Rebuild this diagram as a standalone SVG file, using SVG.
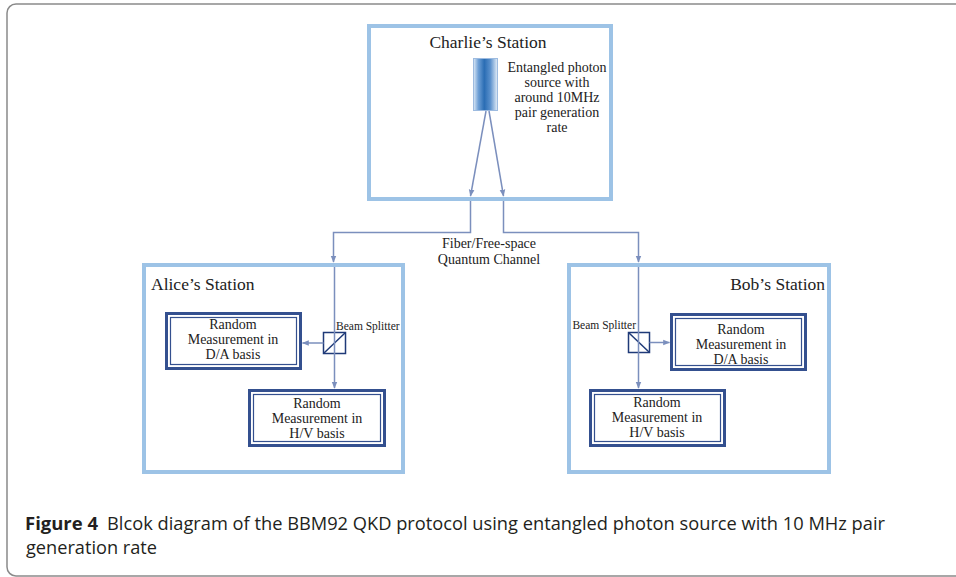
<svg xmlns="http://www.w3.org/2000/svg" width="956" height="577" viewBox="0 0 956 577">
<defs>
<linearGradient id="src" x1="0" y1="0" x2="1" y2="0">
<stop offset="0" stop-color="#dce9f6"/>
<stop offset="0.2" stop-color="#6fa0d6"/>
<stop offset="0.45" stop-color="#2a6db4"/>
<stop offset="0.7" stop-color="#5a90cc"/>
<stop offset="1" stop-color="#e4eef8"/>
</linearGradient>
<marker id="ar" viewBox="0 0 10 10" refX="9" refY="5" markerWidth="7" markerHeight="7" markerUnits="userSpaceOnUse" orient="auto">
<path d="M0,1 L10,5 L0,9 Z" fill="#7b8fbd"/>
</marker>
<style>
.frame{fill:none;stroke:#8a8a8a;stroke-width:1.5}
.station{fill:#fff;stroke:#9dc3e6;stroke-width:4}
.title{font-family:"Liberation Serif","DejaVu Serif",serif;font-size:17.5px;fill:#222}
.lbl{font-family:"Liberation Serif","DejaVu Serif",serif;font-size:14px;fill:#222;text-anchor:middle}
.small{font-family:"Liberation Serif","DejaVu Serif",serif;font-size:11.5px;fill:#222}
.box-o{fill:#fff;stroke:#34508f;stroke-width:3}
.box-i{fill:none;stroke:#34508f;stroke-width:1.2}
.line{fill:none;stroke:#7b8fbd;stroke-width:1.5}
.bs{fill:none;stroke:#1f3a78;stroke-width:1.5}
.cap{font-family:"Open Sans","Liberation Sans",sans-serif;font-size:18px;fill:#231f20}
</style>
</defs>
<rect class="frame" x="7" y="4" width="960" height="572" rx="9"/>

<g id="charlie">
<rect class="station" x="369" y="26" width="242" height="173"/>
<text class="title" x="488" y="48" text-anchor="middle">Charlie’s Station</text>
<rect x="473.5" y="58.5" width="24" height="52" fill="url(#src)" stroke="#9dbbe0" stroke-width="1"/>
<text class="lbl" x="557" y="72">Entangled photon</text>
<text class="lbl" x="557" y="87">source with</text>
<text class="lbl" x="557" y="102">around 10MHz</text>
<text class="lbl" x="557" y="117">pair generation</text>
<text class="lbl" x="557" y="132">rate</text>
</g>

<g id="alice">
<rect class="station" x="144" y="265" width="259" height="207"/>
<text class="title" x="151" y="290">Alice’s Station</text>
</g>
<g id="alice-da">
<rect class="box-o" x="166.5" y="313.5" width="134" height="55"/>
<rect class="box-i" x="170.5" y="317.5" width="126" height="47"/>
<text class="lbl" x="233" y="329">Random</text>
<text class="lbl" x="233" y="344">Measurement in</text>
<text class="lbl" x="233" y="359">D/A basis</text>
</g>
<g id="alice-hv">
<rect class="box-o" x="249.5" y="390.5" width="135" height="55"/>
<rect class="box-i" x="253.5" y="394.5" width="127" height="47"/>
<text class="lbl" x="317" y="408">Random</text>
<text class="lbl" x="317" y="423">Measurement in</text>
<text class="lbl" x="317" y="438">H/V basis</text>
</g>
<g id="alice-bs">
<rect class="bs" x="323.5" y="332.5" width="22" height="21"/>
<line class="bs" x1="323.5" y1="353.5" x2="345.5" y2="332.5"/>
<text class="small" x="336" y="330">Beam Splitter</text>
</g>

<g id="bob">
<rect class="station" x="569" y="265" width="260" height="207"/>
<text class="title" x="825" y="290" text-anchor="end">Bob’s Station</text>
</g>
<g id="bob-da">
<rect class="box-o" x="671.5" y="314.5" width="134" height="55"/>
<rect class="box-i" x="675.5" y="318.5" width="126" height="47"/>
<text class="lbl" x="741" y="334">Random</text>
<text class="lbl" x="741" y="349">Measurement in</text>
<text class="lbl" x="741" y="364">D/A basis</text>
</g>
<g id="bob-hv">
<rect class="box-o" x="590.5" y="390.5" width="134" height="55"/>
<rect class="box-i" x="594.5" y="394.5" width="126" height="47"/>
<text class="lbl" x="657" y="407">Random</text>
<text class="lbl" x="657" y="422">Measurement in</text>
<text class="lbl" x="657" y="437">H/V basis</text>
</g>
<g id="bob-bs">
<rect class="bs" x="628.5" y="332.5" width="21" height="20"/>
<line class="bs" x1="628.5" y1="332.5" x2="649.5" y2="352.5"/>
<text class="small" x="636" y="329" text-anchor="end">Beam Splitter</text>
</g>

<g id="connectors">
<line class="line" x1="486" y1="111" x2="470.5" y2="196" marker-end="url(#ar)"/>
<line class="line" x1="489" y1="111" x2="503.5" y2="196" marker-end="url(#ar)"/>
<polyline class="line" points="470.5,201 470.5,232.5 333.5,232.5 333.5,262" marker-end="url(#ar)"/>
<polyline class="line" points="503.5,201 503.5,232.5 638.5,232.5 638.5,262" marker-end="url(#ar)"/>
<line class="line" x1="334.5" y1="267" x2="334.5" y2="388" marker-end="url(#ar)"/>
<line class="line" x1="323.5" y1="343" x2="302.5" y2="343" marker-end="url(#ar)"/>
<line class="line" x1="638.5" y1="267" x2="638.5" y2="388" marker-end="url(#ar)"/>
<line class="line" x1="649.5" y1="342.5" x2="669.5" y2="342.5" marker-end="url(#ar)"/>
<text class="lbl" x="489" y="248">Fiber/Free-space</text>
<text class="lbl" x="489" y="264">Quantum Channel</text>
</g>

<text class="cap" x="25" y="530" font-weight="bold" textLength="73" lengthAdjust="spacingAndGlyphs">Figure 4</text>
<text class="cap" x="107" y="530" textLength="778" lengthAdjust="spacingAndGlyphs">Blcok diagram of the BBM92 QKD protocol using entangled photon source with 10 MHz pair</text>
<text class="cap" x="26" y="554" textLength="131" lengthAdjust="spacingAndGlyphs">generation rate</text>
</svg>
